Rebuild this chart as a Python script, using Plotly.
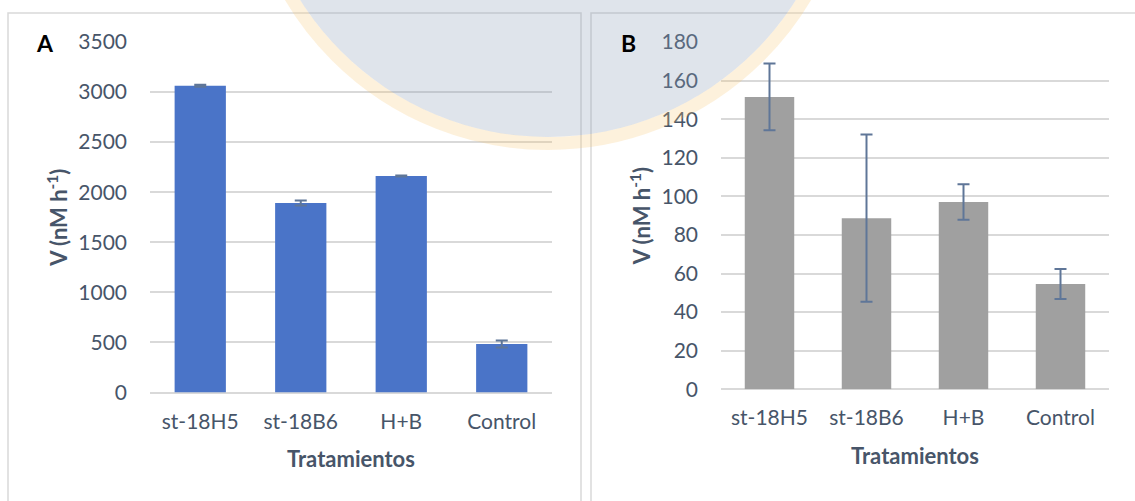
import plotly.graph_objects as go

# Treatments and measured rates
categories = ["st-18H5", "st-18B6", "H+B", "Control"]

rate_a = [3062, 1892, 2162, 484]
err_a = [10, 25, 5, 35]

rate_b = [151.5, 88.7, 97.1, 54.6]
err_b = [17.3, 43.3, 9.2, 7.8]

W, H = 1135, 501
FONT = "Lato"
TEXT = "#475569"
GRID = "#d9d9d9"
ERR = "#5f7698"


def px_x(v):
    return v / W


def px_y(v):
    return 1 - v / H


fig = go.Figure()

fig.add_trace(go.Bar(
    x=categories, y=rate_a, xaxis="x", yaxis="y",
    marker=dict(color="#4a74c8", line=dict(width=0)),
    error_y=dict(type="data", array=err_a, visible=True,
                 color=ERR, thickness=2, width=6),
    showlegend=False,
))

fig.add_trace(go.Bar(
    x=categories, y=rate_b, xaxis="x2", yaxis="y2",
    marker=dict(color="#a0a0a0", line=dict(width=0)),
    error_y=dict(type="data", array=err_b, visible=True,
                 color=ERR, thickness=2, width=6),
    showlegend=False,
))

tick_font = dict(family=FONT, size=21, color=TEXT)
title_font = dict(family=FONT, size=22, color=TEXT)

common_x = dict(
    type="category", showgrid=False, zeroline=False, showline=False,
    automargin=False, ticks="", tickfont=tick_font, ticklabelstandoff=14,
    title=dict(text="<b>Tratamientos</b>", font=title_font, standoff=20),
)
common_y = dict(
    showgrid=True, gridcolor=GRID, gridwidth=1.5,
    zeroline=True, zerolinecolor=GRID, zerolinewidth=1.5,
    showline=False, automargin=False, ticks="", tickfont=tick_font,
    ticklabelstandoff=22,
    title=dict(text="<b>V (nM h<sup>-1</sup>)</b>", font=title_font, standoff=4),
)

fig.update_layout(
    width=W, height=H,
    margin=dict(l=0, r=0, t=0, b=0, autoexpand=False),
    paper_bgcolor="white", plot_bgcolor="rgba(0,0,0,0)",
    bargap=0.49,
    xaxis=dict(domain=[px_x(150), px_x(552)], anchor="y", **common_x),
    yaxis=dict(domain=[px_y(392.5), px_y(42)], anchor="x",
               range=[0, 3500], dtick=500, **common_y),
    xaxis2=dict(domain=[px_x(721), px_x(1109)], anchor="y2", **common_x),
    yaxis2=dict(domain=[px_y(389.3), px_y(42)], anchor="x2",
                range=[0, 180], dtick=20, **common_y),
)

# Panel frames
for x0, x1 in [(8, 581), (591, 1160)]:
    fig.add_shape(type="rect", xref="paper", yref="paper",
                  x0=px_x(x0), x1=px_x(x1), y0=px_y(13), y1=px_y(540),
                  line=dict(color=GRID, width=1.5), fillcolor="rgba(0,0,0,0)",
                  layer="above")

# Faint seal in the background
cx, cy, r_out, ring = 548, -155.6, 305.6, 13
fig.add_shape(type="circle", xref="paper", yref="paper",
              x0=px_x(cx - (r_out - ring / 2)), x1=px_x(cx + (r_out - ring / 2)),
              y0=px_y(cy + (r_out - ring / 2)), y1=px_y(cy - (r_out - ring / 2)),
              line=dict(color="rgba(247,196,110,0.24)", width=ring),
              fillcolor="rgba(0,0,0,0)", layer="above")
r_in = r_out - ring
fig.add_shape(type="circle", xref="paper", yref="paper",
              x0=px_x(cx - r_in), x1=px_x(cx + r_in),
              y0=px_y(cy + r_in), y1=px_y(cy - r_in),
              line=dict(width=0), fillcolor="rgba(140,158,182,0.28)", layer="above")

# Panel letters
for label, x, y in [("A", 45, 43.5), ("B", 628.5, 42.5)]:
    fig.add_annotation(text=f"<b>{label}</b>", xref="paper", yref="paper",
                       x=px_x(x), y=px_y(y), xanchor="center", yanchor="middle",
                       showarrow=False, font=dict(family=FONT, size=23, color="black"))

fig.write_html("out.html")
